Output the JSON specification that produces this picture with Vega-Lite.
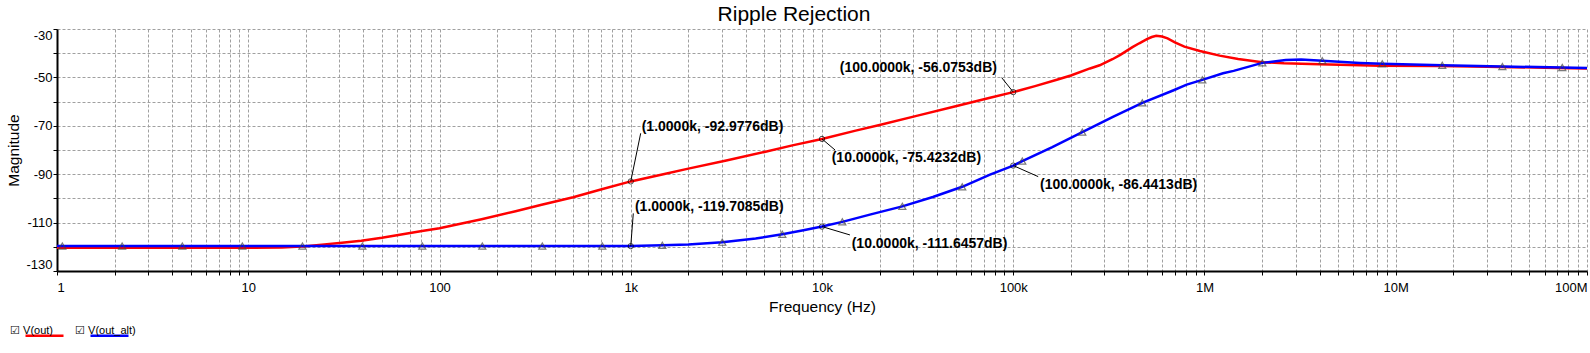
{
  "$schema": "https://vega.github.io/schema/vega-lite/v6.json",
  "width": 1530,
  "height": 242,
  "autosize": {"type": "none"},
  "padding": {"left": 57, "top": 29, "right": 3, "bottom": 82},
  "background": "white",
  "config": {"view": {"stroke": null}, "font": "Liberation Sans"},
  "title": {"text": "Ripple Rejection", "fontSize": 21, "font": "Liberation Sans", "fontWeight": "normal", "color": "black", "anchor": "middle", "dx": -28, "offset": 4},
  "datasets": {
    "curves": [
      {"series": "V(out)", "freq": 1, "db": -120.4},
      {"series": "V(out)", "freq": 2, "db": -120.4},
      {"series": "V(out)", "freq": 5, "db": -120.4},
      {"series": "V(out)", "freq": 10, "db": -120.4},
      {"series": "V(out)", "freq": 15, "db": -120.3},
      {"series": "V(out)", "freq": 20, "db": -119.8},
      {"series": "V(out)", "freq": 25, "db": -119.0},
      {"series": "V(out)", "freq": 30, "db": -118.4},
      {"series": "V(out)", "freq": 39, "db": -117.5},
      {"series": "V(out)", "freq": 50, "db": -116.3},
      {"series": "V(out)", "freq": 62, "db": -115.0},
      {"series": "V(out)", "freq": 81, "db": -113.5},
      {"series": "V(out)", "freq": 100, "db": -112.3},
      {"series": "V(out)", "freq": 120, "db": -111.0},
      {"series": "V(out)", "freq": 166, "db": -108.6},
      {"series": "V(out)", "freq": 250, "db": -105.3},
      {"series": "V(out)", "freq": 342, "db": -102.6},
      {"series": "V(out)", "freq": 500, "db": -99.5},
      {"series": "V(out)", "freq": 705, "db": -96.2},
      {"series": "V(out)", "freq": 1000, "db": -92.9776},
      {"series": "V(out)", "freq": 1500, "db": -89.9},
      {"series": "V(out)", "freq": 2000, "db": -87.7},
      {"series": "V(out)", "freq": 3160, "db": -84.3},
      {"series": "V(out)", "freq": 5000, "db": -80.8},
      {"series": "V(out)", "freq": 7000, "db": -78.1},
      {"series": "V(out)", "freq": 10000, "db": -75.4232},
      {"series": "V(out)", "freq": 15000, "db": -72.0},
      {"series": "V(out)", "freq": 20000, "db": -69.7},
      {"series": "V(out)", "freq": 31600, "db": -65.8},
      {"series": "V(out)", "freq": 50000, "db": -61.9},
      {"series": "V(out)", "freq": 75600, "db": -58.4},
      {"series": "V(out)", "freq": 100000, "db": -56.0753},
      {"series": "V(out)", "freq": 130000, "db": -53.6},
      {"series": "V(out)", "freq": 169000, "db": -51.0},
      {"series": "V(out)", "freq": 200000, "db": -49.2},
      {"series": "V(out)", "freq": 252000, "db": -46.3},
      {"series": "V(out)", "freq": 283000, "db": -45.0},
      {"series": "V(out)", "freq": 330000, "db": -42.5},
      {"series": "V(out)", "freq": 363000, "db": -40.7},
      {"series": "V(out)", "freq": 420000, "db": -37.5},
      {"series": "V(out)", "freq": 456000, "db": -35.9},
      {"series": "V(out)", "freq": 500000, "db": -34.2},
      {"series": "V(out)", "freq": 530000, "db": -33.3},
      {"series": "V(out)", "freq": 559000, "db": -32.8},
      {"series": "V(out)", "freq": 600000, "db": -33.1},
      {"series": "V(out)", "freq": 641000, "db": -33.9},
      {"series": "V(out)", "freq": 700000, "db": -35.5},
      {"series": "V(out)", "freq": 785000, "db": -37.3},
      {"series": "V(out)", "freq": 946000, "db": -39.1},
      {"series": "V(out)", "freq": 1200000, "db": -41.0},
      {"series": "V(out)", "freq": 1500000, "db": -42.4},
      {"series": "V(out)", "freq": 2000000, "db": -43.7},
      {"series": "V(out)", "freq": 2600000, "db": -44.2},
      {"series": "V(out)", "freq": 4000000, "db": -44.6},
      {"series": "V(out)", "freq": 8300000, "db": -45.2},
      {"series": "V(out)", "freq": 17000000, "db": -45.3},
      {"series": "V(out)", "freq": 30000000, "db": -45.6},
      {"series": "V(out)", "freq": 60000000, "db": -46.0},
      {"series": "V(out)", "freq": 100000000, "db": -46.3},
      {"series": "V(out_alt)", "freq": 1, "db": -119.72},
      {"series": "V(out_alt)", "freq": 10, "db": -119.72},
      {"series": "V(out_alt)", "freq": 100, "db": -119.72},
      {"series": "V(out_alt)", "freq": 500, "db": -119.72},
      {"series": "V(out_alt)", "freq": 1000, "db": -119.7085},
      {"series": "V(out_alt)", "freq": 1462, "db": -119.4},
      {"series": "V(out_alt)", "freq": 2000, "db": -119.0},
      {"series": "V(out_alt)", "freq": 3010, "db": -118.1},
      {"series": "V(out_alt)", "freq": 4500, "db": -116.6},
      {"series": "V(out_alt)", "freq": 6200, "db": -114.8},
      {"series": "V(out_alt)", "freq": 8000, "db": -113.2},
      {"series": "V(out_alt)", "freq": 10000, "db": -111.6457},
      {"series": "V(out_alt)", "freq": 12770, "db": -109.7},
      {"series": "V(out_alt)", "freq": 18000, "db": -106.6},
      {"series": "V(out_alt)", "freq": 26300, "db": -103.3},
      {"series": "V(out_alt)", "freq": 38000, "db": -99.4},
      {"series": "V(out_alt)", "freq": 54100, "db": -95.2},
      {"series": "V(out_alt)", "freq": 75600, "db": -90.2},
      {"series": "V(out_alt)", "freq": 100000, "db": -86.4413},
      {"series": "V(out_alt)", "freq": 111500, "db": -84.6},
      {"series": "V(out_alt)", "freq": 160000, "db": -78.8},
      {"series": "V(out_alt)", "freq": 229600, "db": -72.6},
      {"series": "V(out_alt)", "freq": 332000, "db": -66.3},
      {"series": "V(out_alt)", "freq": 472900, "db": -60.5},
      {"series": "V(out_alt)", "freq": 685000, "db": -55.4},
      {"series": "V(out_alt)", "freq": 807000, "db": -53.0},
      {"series": "V(out_alt)", "freq": 973900, "db": -51.0},
      {"series": "V(out_alt)", "freq": 1250000, "db": -48.3},
      {"series": "V(out_alt)", "freq": 1420000, "db": -47.3},
      {"series": "V(out_alt)", "freq": 2006000, "db": -44.0},
      {"series": "V(out_alt)", "freq": 2660000, "db": -42.8},
      {"series": "V(out_alt)", "freq": 3200000, "db": -42.6},
      {"series": "V(out_alt)", "freq": 4130000, "db": -43.1},
      {"series": "V(out_alt)", "freq": 6500000, "db": -44.0},
      {"series": "V(out_alt)", "freq": 8500000, "db": -44.4},
      {"series": "V(out_alt)", "freq": 17500000, "db": -45.0},
      {"series": "V(out_alt)", "freq": 36100000, "db": -45.5},
      {"series": "V(out_alt)", "freq": 74300000, "db": -45.9},
      {"series": "V(out_alt)", "freq": 100000000, "db": -46.1}
    ],
    "markers": [
      {"freq": 1.066, "db": -119.72},
      {"freq": 2.19, "db": -119.72},
      {"freq": 4.52, "db": -119.72},
      {"freq": 9.31, "db": -119.72},
      {"freq": 19.2, "db": -119.72},
      {"freq": 39.5, "db": -119.72},
      {"freq": 81.3, "db": -119.72},
      {"freq": 167.4, "db": -119.72},
      {"freq": 344.7, "db": -119.72},
      {"freq": 710, "db": -119.72},
      {"freq": 1462, "db": -119.4},
      {"freq": 3010, "db": -118.1},
      {"freq": 6200, "db": -114.8},
      {"freq": 12770, "db": -109.7},
      {"freq": 26300, "db": -103.3},
      {"freq": 54100, "db": -95.2},
      {"freq": 111500, "db": -84.6},
      {"freq": 229600, "db": -72.6},
      {"freq": 472900, "db": -60.5},
      {"freq": 973900, "db": -51.0},
      {"freq": 2006000, "db": -44.0},
      {"freq": 4130000, "db": -43.1},
      {"freq": 8500000, "db": -44.4},
      {"freq": 17500000, "db": -45.0},
      {"freq": 36100000, "db": -45.5},
      {"freq": 74300000, "db": -45.9}
    ],
    "notes": [
      {"series": "V(out)", "freq": 1000, "db": -92.9776, "text": "(1.0000k, -92.9776dB)", "text_freq": 1141, "text_db": -70.5, "lead_freq": 1127, "lead_db": -73.1},
      {"series": "V(out)", "freq": 10000, "db": -75.4232, "text": "(10.0000k, -75.4232dB)", "text_freq": 11240, "text_db": -83.4, "lead_freq": 11700, "lead_db": -80.0},
      {"series": "V(out)", "freq": 100000, "db": -56.0753, "text": "(100.0000k, -56.0753dB)", "text_freq": 12380, "text_db": -46.3, "lead_freq": 87000, "lead_db": -50.1},
      {"series": "V(out_alt)", "freq": 1000, "db": -119.7085, "text": "(1.0000k, -119.7085dB)", "text_freq": 1052, "text_db": -103.6, "lead_freq": 1031, "lead_db": -106.2},
      {"series": "V(out_alt)", "freq": 10000, "db": -111.6457, "text": "(10.0000k, -111.6457dB)", "text_freq": 14300, "text_db": -118.8, "lead_freq": 14000, "lead_db": -115.1},
      {"series": "V(out_alt)", "freq": 100000, "db": -86.4413, "text": "(100.0000k, -86.4413dB)", "text_freq": 138000, "text_db": -94.6, "lead_freq": 135000, "lead_db": -91.0}
    ]
  },
  "encoding": {
    "x": {
      "field": "freq", "type": "quantitative",
      "scale": {"type": "log", "domain": [1, 100000000], "nice": false},
      "axis": {
        "title": "Frequency (Hz)",
        "values": [1,2,3,4,5,6,7,8,9,10,20,30,40,50,60,70,80,90,100,200,300,400,500,600,700,800,900,1000,2000,3000,4000,5000,6000,7000,8000,9000,10000,20000,30000,40000,50000,60000,70000,80000,90000,100000,200000,300000,400000,500000,600000,700000,800000,900000,1000000,2000000,3000000,4000000,5000000,6000000,7000000,8000000,9000000,10000000,20000000,30000000,40000000,50000000,60000000,70000000,80000000,90000000,100000000],
        "labelExpr": "datum.value == 1 ? '1' : datum.value == 10 ? '10' : datum.value == 100 ? '100' : datum.value == 1000 ? '1k' : datum.value == 10000 ? '10k' : datum.value == 100000 ? '100k' : datum.value == 1000000 ? '1M' : datum.value == 10000000 ? '10M' : datum.value == 100000000 ? '100M' : ''",
        "labelFlush": true, "labelOverlap": false,
        "labelFont": "Liberation Sans", "labelFontSize": 13, "labelColor": "black", "labelPadding": 6,
        "grid": true, "gridColor": "#a0a0a0", "gridDash": [3, 2], "gridWidth": 1,
        "domainColor": "black", "domainWidth": 2, "tickColor": "black", "tickSize": 4,
        "titleFont": "Liberation Sans", "titleFontSize": 15.5, "titleFontWeight": "normal", "titleColor": "black", "titlePadding": 5
      }
    },
    "y": {
      "field": "db", "type": "quantitative",
      "scale": {"domain": [-130, -30], "nice": false, "zero": false},
      "axis": {
        "title": "Magnitude",
        "values": [-130,-120,-110,-100,-90,-80,-70,-60,-50,-40,-30],
        "labelExpr": "(datum.value + 30) % 20 == 0 ? '-' + abs(datum.value) : ''",
        "labelFlush": true, "labelOverlap": false,
        "labelFont": "Liberation Sans", "labelFontSize": 13, "labelColor": "black", "labelPadding": 1,
        "grid": true, "gridColor": "#a0a0a0", "gridDash": [3, 2], "gridWidth": 1,
        "domainColor": "black", "domainWidth": 2, "tickColor": "black", "tickSize": 4,
        "titleFont": "Liberation Sans", "titleFontSize": 15.5, "titleFontWeight": "normal", "titleColor": "black", "titlePadding": 4
      }
    }
  },
  "layer": [
    {
      "data": {"name": "curves"},
      "mark": {"type": "line", "strokeWidth": 2.5, "clip": true},
      "encoding": {
        "color": {
          "field": "series", "type": "nominal",
          "scale": {"domain": ["V(out)", "V(out_alt)"], "range": ["#ff0000", "#0000ff"]},
          "legend": {
            "orient": "none", "legendX": -33, "legendY": 286, "direction": "horizontal", "title": null,
            "symbolType": "stroke", "symbolSize": 1444, "symbolStrokeWidth": 2.5,
            "labelFont": "Liberation Sans", "labelFontSize": 11, "labelColor": "black",
            "labelBaseline": "bottom", "labelOffset": -55, "columnPadding": 6,
            "labelExpr": "'☑ ' + datum.label"
          }
        }
      }
    },
    {
      "data": {"name": "markers"},
      "mark": {"type": "point", "shape": "triangle-up", "filled": false, "stroke": "#444444", "strokeWidth": 1.2, "size": 50}
    },
    {
      "data": {"name": "notes"},
      "mark": {"type": "rule", "color": "black", "strokeWidth": 1},
      "encoding": {
        "x2": {"field": "lead_freq"},
        "y2": {"field": "lead_db"}
      }
    },
    {
      "data": {"name": "notes"},
      "mark": {"type": "point", "shape": "circle", "filled": false, "stroke": "black", "strokeWidth": 1, "size": 28}
    },
    {
      "data": {"name": "notes"},
      "mark": {"type": "text", "align": "left", "baseline": "middle", "font": "Liberation Sans", "fontWeight": "bold", "fontSize": 14, "color": "black"},
      "encoding": {
        "x": {"field": "text_freq", "type": "quantitative"},
        "y": {"field": "text_db", "type": "quantitative"},
        "text": {"field": "text"}
      }
    }
  ]
}
